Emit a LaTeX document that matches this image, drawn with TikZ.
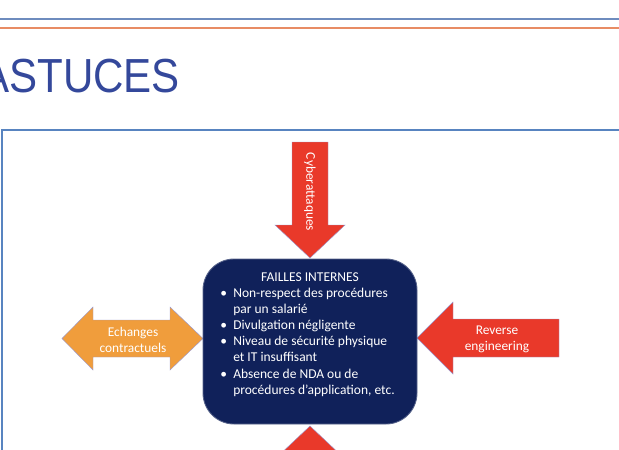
\documentclass[tikz,border=0pt]{standalone}
\usepackage{fontspec}
\setmainfont{Carlito}
\newfontfamily\titlefont{Liberation Sans}
\definecolor{titleblue}{RGB}{52,72,155}
\definecolor{lineblue}{RGB}{110,140,190}
\definecolor{lineorange}{RGB}{232,140,100}
\definecolor{frameblue}{RGB}{88,132,192}
\definecolor{navy}{RGB}{16,33,90}
\definecolor{arrowred}{RGB}{233,57,42}
\definecolor{arroworange}{RGB}{240,157,60}
\tikzset{
  arrowtext/.style={text=white, font=\fontsize{9.5}{11.4}\selectfont, align=center, inner sep=0pt},
  listtext/.style={text=white, font=\fontsize{9.6}{11.6}\selectfont, anchor=base west, inner sep=0pt},
  shape line/.style={draw=black!45!blue!40, line width=0.3pt}
}
\begin{document}
\begin{tikzpicture}[x=0.025cm, y=-0.025cm]
\useasboundingbox (0, 0) rectangle (619, 449);
\clip (0, 0) rectangle (619, 449);
\draw [lineblue, line width=1.2pt] (0, 19) -- (619, 19);
\draw [lineorange, line width=1pt] (0, 28) -- (619, 28);
\node [anchor=base west, inner sep=0pt, text=titleblue, font=\titlefont\fontsize{34}{36}\selectfont] (titre) at (-19, 92) {\scalebox{0.88}[1]{ASTUCES}};
\draw [frameblue, line width=1.4pt] (2, 470) -- (2, 130) -- (640, 130);
% arrows
\filldraw [fill=arrowred, shape line] (292, 142) -- (328, 142) -- (328, 225) -- (345, 225) -- (310, 258) -- (275, 225) -- (292, 225) -- cycle;
\node [arrowtext, rotate=-90] (cyber) at (310, 192) {Cyberattaques};
\filldraw [fill=arroworange, shape line] (62, 338.5) -- (93, 307) -- (93, 320) -- (170, 320) -- (170, 307) -- (203, 338.5) -- (170, 370) -- (170, 357) -- (93, 357) -- (93, 370) -- cycle;
\node [arrowtext] (echanges) at (133, 340) {Echanges\\contractuels};
\filldraw [fill=arrowred, shape line] (417, 338) -- (453, 302) -- (453, 319) -- (559, 319) -- (559, 357) -- (453, 357) -- (453, 374) -- cycle;
\node [arrowtext] (reverse) at (497, 339) {Reverse\\engineering};
\filldraw [fill=arrowred, shape line] (310, 426) -- (345, 459) -- (328, 459) -- (328, 520) -- (292, 520) -- (292, 459) -- (275, 459) -- cycle;
% central box
\filldraw [fill=navy, draw=navy!70!white, line width=0.6pt, rounded corners=22] (203, 259) rectangle (417, 424);
\node [text=white, font=\fontsize{9.6}{11.6}\selectfont, inner sep=0pt] (failles) at (310, 277) {FAILLES INTERNES};
\foreach \yy/\bl/\txt in {294/1/Non-respect des procédures, 310/0/par un salarié, 326/1/Divulgation négligente, 342/1/Niveau de sécurité physique, 358/0/et IT insuffisant, 375/1/Absence de NDA ou de, 391/0/{procédures d’application, etc.}}{
  \node [listtext] (ligne\yy) at (233, \yy + 3.5) {\txt};
  \ifnum\bl=1 \node [listtext] (puce\yy) at (220, \yy + 3.5) {\textbullet}; \fi
}
\end{tikzpicture}
\end{document}
